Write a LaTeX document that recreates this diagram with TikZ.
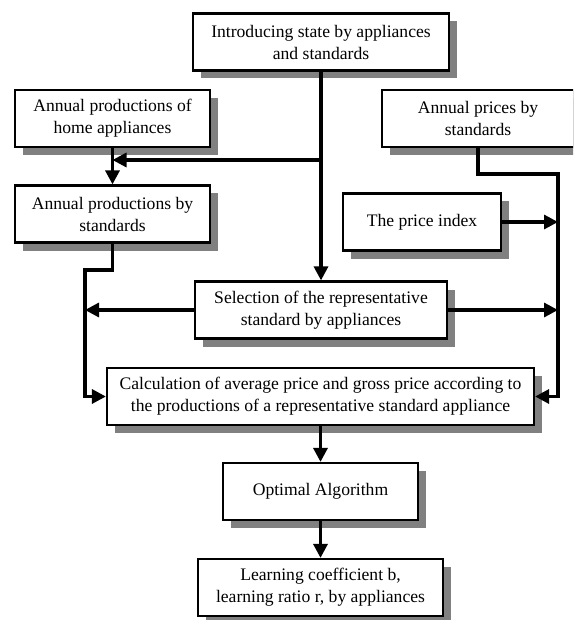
\documentclass[tikz,border=0pt]{standalone}
\usepackage{fontspec}
\setmainfont{Liberation Serif}
\usetikzlibrary{arrows.meta,shadows}
\begin{document}
\begin{tikzpicture}[x=1pt, y=-1pt,
    every node/.style={font=\fontsize{17.6}{22}\selectfont},
    stage/.style={draw, line width=2.2pt, fill=white, align=center,
        minimum height=57pt, inner sep=0pt,
        drop shadow={shadow xshift=8pt, shadow yshift=-8pt, opacity=1, fill=black!50}},
    flow/.style={line width=3.2pt, -{Triangle[length=14pt, width=14pt]}}]
    \useasboundingbox (0,0) rectangle (573,620);
    \clip (0,0) rectangle (573,620);
    \node[stage, minimum width=256pt] (intro) at (321,42) {Introducing state by appliances\\and standards};
    \node[stage, minimum width=195pt] (prodhome) at (112.5,118.5) {Annual productions of\\home appliances};
    \node[stage, minimum width=192pt] (prices) at (478,118.5) {Annual prices by\\standards};
    \node[stage, minimum width=195pt] (prodstd) at (112.5,214) {Annual productions by\\standards};
    \node[stage, minimum width=158pt] (index) at (422,222) {The price index};
    \node[stage, minimum width=252pt] (select) at (321,310) {Selection of the representative\\standard by appliances};
    \node[stage, minimum width=427pt] (calc) at (320.5,396.5) {Calculation of average price and gross price according to\\the productions of a representative standard appliance};
    \node[stage, minimum width=195pt] (optimal) at (320.5,491.5) {Optimal Algorithm};
    \node[stage, minimum width=245pt] (learn) at (320.5,587.5) {Learning coefficient b,\\learning ratio r, by appliances};
    \coordinate (fork) at (321,160);
    \coordinate (lrail) at (85,270);
    \coordinate (rrail) at (558,174);
    \draw[flow] (intro.south) -- (select.north);
    \draw[flow] (fork) -- (fork -| prodhome.south);
    \draw[flow] (prodhome.south) -- (prodstd.north);
    \draw[flow] (prodstd.south) |- (lrail) |- (calc.west);
    \draw[flow] (select.west) -- (select.west -| lrail);
    \draw[flow] (prices.south) |- (rrail) |- (calc.east);
    \draw[flow] (index.east) -- (index.east -| rrail);
    \draw[flow] (select.east) -- (select.east -| rrail);
    \draw[flow] (calc.south) -- (optimal.north);
    \draw[flow] (optimal.south) -- (learn.north);
\end{tikzpicture}
\end{document}
